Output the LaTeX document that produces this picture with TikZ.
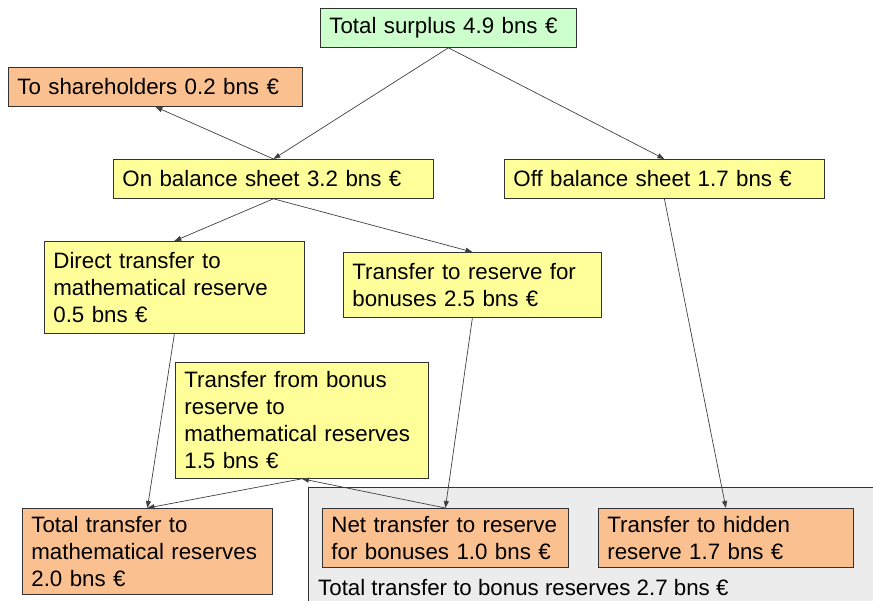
\documentclass[tikz,border=0pt]{standalone}
\usepackage{fontspec}
\setmainfont{Liberation Sans}
\definecolor{surplusgreen}{RGB}{204,255,204}
\definecolor{sheetyellow}{RGB}{255,255,153}
\definecolor{payorange}{RGB}{250,192,144}
\definecolor{areagrey}{RGB}{236,236,236}
\usetikzlibrary{arrows.meta}

\begin{document}
\begin{tikzpicture}[
    x=1pt, y=-1pt,
    >={Triangle[length=7pt,width=5pt]},
    % Define styles
    box/.style={rectangle, draw=black!80, line width=0.8pt, anchor=north west, align=left, inner xsep=9pt, inner ysep=0pt},
    surplus/.style={box, fill=surplusgreen},
    sheet/.style={box, fill=sheetyellow},
    payout/.style={box, fill=payorange},
    bonusarea/.style={rectangle, draw=black!80, line width=0.8pt, fill=areagrey, anchor=north west, minimum width=600pt, minimum height=140pt},
    arrow/.style={->, line width=0.7pt, black!75},
    % Font
    font=\fontsize{22.3}{27}\selectfont
]
\useasboundingbox (0,0) rectangle (873,601);

% Top of the tree
\node[surplus, text width=238pt, minimum height=39pt] (total) at (320,8) {Total surplus 4.9 bns €};
\node[payout, text width=276pt, minimum height=39pt] (share) at (8,67) {To shareholders 0.2 bns €};

% Balance sheet split
\node[sheet, text width=302pt, minimum height=39pt] (onbal) at (113,159) {On balance sheet 3.2 bns €};
\node[sheet, text width=302pt, minimum height=39pt] (offbal) at (504,159) {Off balance sheet 1.7 bns €};

% Transfers on balance sheet
\node[sheet, text width=242pt, minimum height=92pt] (direct) at (44,241) {Direct transfer to\\mathematical reserve\\0.5 bns €};
\node[sheet, text width=240pt, minimum height=65pt] (toreserve) at (343,252) {Transfer to reserve for\\bonuses 2.5 bns €};
\node[sheet, text width=235pt, minimum height=116pt] (frombonus) at (175,362) {Transfer from bonus\\reserve to\\mathematical reserves\\1.5 bns €};

% Bonus reserve area
\node[bonusarea] (area) at (308,487) {};
\node[anchor=base west, inner sep=0pt] (areatotal) at (318,595) {Total transfer to bonus reserves 2.7 bns €};

% Final results
\node[payout, text width=232pt, minimum height=86pt] (totmath) at (22,508) {Total transfer to\\mathematical reserves\\2.0 bns €};
\node[payout, text width=228pt, minimum height=59pt] (net) at (322,508) {Net transfer to reserve\\for bonuses 1.0 bns €};
\node[payout, text width=237pt, minimum height=59pt] (hidden) at (598,508) {Transfer to hidden\\reserve 1.7 bns €};

% Connections
\draw[arrow] (total.south) -- (onbal.north);
\draw[arrow] (total.south) -- (offbal.north);
\draw[arrow] (onbal.north) -- (share.south);
\draw[arrow] (onbal.south) -- (direct.north);
\draw[arrow] (onbal.south) -- (toreserve.north);
\draw[arrow] (direct.south) -- (totmath.north);
\draw[arrow] (toreserve.south) -- (net.north);
\draw[arrow] (offbal.south) -- (hidden.north);
\draw[arrow] (net.north) -- (frombonus.south);
\draw[arrow] (frombonus.south) -- (totmath.north);

\end{tikzpicture}
\end{document}
